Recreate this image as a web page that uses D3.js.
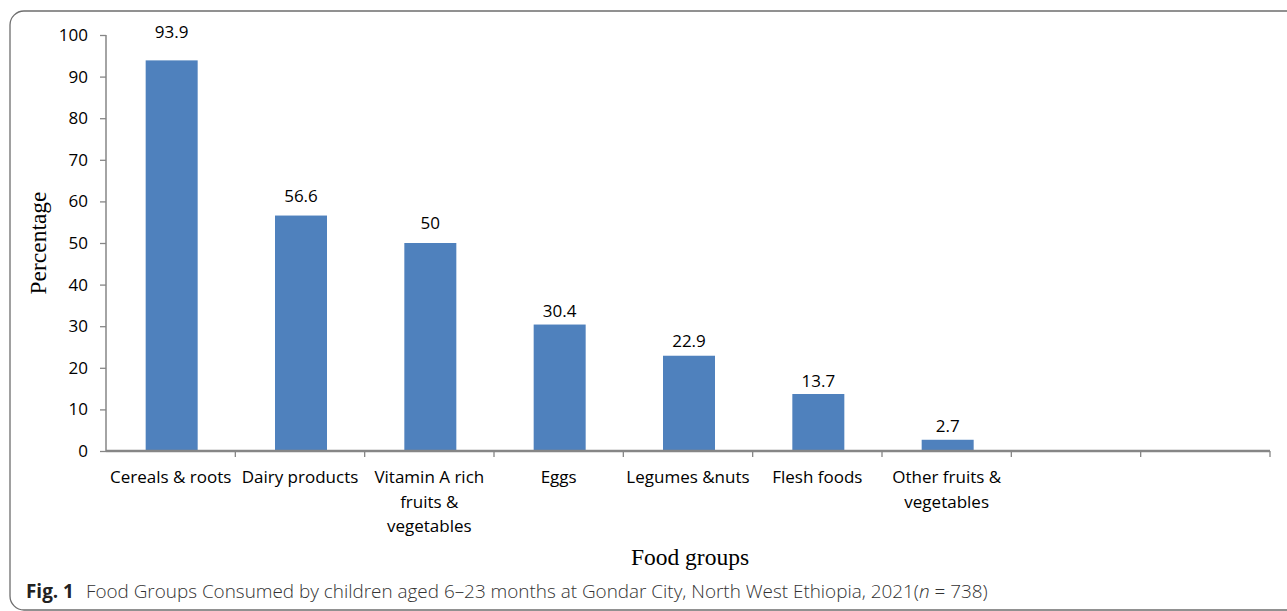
<!DOCTYPE html>
<html>
<head>
<meta charset="utf-8">
<script src="https://cdn.jsdelivr.net/npm/d3@7"></script>
<style>
  body { margin: 0; background: #fff; }
  svg { display: block; }
</style>
</head>
<body>
<div id="chart"></div>
<script>
// data
var categories = ["Cereals & roots", "Dairy products", "Vitamin A rich\nfruits &\nvegetables", "Eggs",
                  "Legumes &nuts", "Flesh foods", "Other fruits &\nvegetables", "", " "];
var values = [93.9, 56.6, 50, 30.4, 22.9, 13.7, 2.7, null, null];
var yTicks = [0, 10, 20, 30, 40, 50, 60, 70, 80, 90, 100];

(function(){
var W = 1287, H = 611;
var mLeft = 106, mRight = 1270, mTop = 35, mBottom = 451;
var font = "'Open Sans', sans-serif";
var fs = "17px";
// gap between bar top and label baseline (as placed in the original)
var labelGap = [22, 14, 14, 8, 9, 7, 8];

var svg = d3.select('#chart').append('svg')
  .attr("width", W)
  .attr("height", H);

// figure frame
svg.append('rect')
  .attr("x", 10).attr("y", 11)
  .attr("width", 1300).attr("height", 599)
  .attr("rx", 14).attr("ry", 14)
  .attr("fill", "none")
  .attr("stroke", "#6e6e6e")
  .attr("stroke-width", 1.3);

var x = d3.scaleBand().domain(categories).range([mLeft, mRight]);
var y = d3.scaleLinear().domain([0, 100]).range([mBottom, mTop]);
var barW = 52;

// bars
var data = categories.map(function(c, i){ return {cat: c, val: values[i], i: i}; })
  .filter(function(d){ return d.val != null; });

svg.selectAll('rect.bar')
  .data(data)
  .enter().append('rect')
  .attr("class", "bar")
  .attr("x", function(d){ return x(d.cat) + x.bandwidth()/2 - barW/2 + 1; })
  .attr("width", barW)
  .attr("y", function(d){ return y(d.val); })
  .attr("height", function(d){ return y(0) - y(d.val); })
  .attr("fill", "#4f81bd");

// value labels
svg.selectAll('text.val')
  .data(data)
  .enter().append('text')
  .attr("class", "val")
  .text(function(d){ return d.val; })
  .attr("x", function(d){ return x(d.cat) + x.bandwidth()/2 + 1; })
  .attr("y", function(d){ return y(d.val) - labelGap[d.i]; })
  .attr("text-anchor", "middle")
  .attr("font-family", font)
  .attr("font-size", fs)
  .attr("fill", "#000");

// y axis
var yAxis = svg.append('g')
  .attr("transform", "translate(" + mLeft + ",0)")
  .call(d3.axisLeft(y).tickValues(yTicks).tickSize(6).tickPadding(12));
yAxis.select('.domain').attr("stroke", "#868686").attr("stroke-width", 1.5).attr("d", "M0," + mTop + "V" + mBottom);
yAxis.selectAll('line').attr("stroke", "#868686").attr("stroke-width", 1.3);
yAxis.selectAll('text')
  .attr("font-family", font)
  .attr("font-size", fs)
  .attr("fill", "#000");

// x axis
var xAxis = svg.append('g')
  .attr("transform", "translate(0," + mBottom + ")");
xAxis.append('line')
  .attr("x1", mLeft).attr("x2", mRight)
  .attr("stroke", "#868686").attr("stroke-width", 2.5);
xAxis.selectAll('line.tick')
  .data(categories)
  .enter().append('line')
  .attr("class", "tick")
  .attr("x1", function(d){ return x(d) + x.bandwidth(); })
  .attr("x2", function(d){ return x(d) + x.bandwidth(); })
  .attr("y1", 0).attr("y2", 6)
  .attr("stroke", "#868686").attr("stroke-width", 1.3);

var xlabels = xAxis.selectAll('text.xl')
  .data(categories)
  .enter().append('text')
  .attr("class", "xl")
  .attr("x", function(d){ return x(d) + x.bandwidth()/2; })
  .attr("y", 32)
  .attr("text-anchor", "middle")
  .attr("font-family", font)
  .attr("font-size", fs)
  .attr("fill", "#000");
xlabels.each(function(d){
  var t = d3.select(this);
  d.split("\n").forEach(function(line, i){
    t.append('tspan')
      .attr("x", x(d) + x.bandwidth()/2)
      .attr("dy", i === 0 ? 0 : 24.5)
      .text(line.trim());
  });
});

// axis titles
svg.append('text')
  .text("Percentage")
  .attr("transform", "translate(46,243) rotate(-90)")
  .attr("text-anchor", "middle")
  .attr("font-family", "'Liberation Serif', 'Times New Roman', serif")
  .attr("font-size", "23.5px")
  .attr("fill", "#000");

svg.append('text')
  .text("Food groups")
  .attr("x", 690).attr("y", 565)
  .attr("text-anchor", "middle")
  .attr("font-family", "'Liberation Serif', 'Times New Roman', serif")
  .attr("font-size", "23.5px")
  .attr("fill", "#000");

// caption
var cap = svg.append('text')
  .attr("x", 26).attr("y", 598)
  .attr("font-family", font)
  .attr("font-size", "18.9px")
  .attr("fill", "#333");
cap.append('tspan').text("Fig. 1").attr("font-weight", "bold").attr("fill", "#222");
cap.append('tspan').text("Food Groups Consumed by children aged 6–23 months at Gondar City, North West Ethiopia, 2021(").attr("font-weight", 300).attr("dx", 12);
cap.append('tspan').text("n").attr("font-style", "italic").attr("font-weight", 300);
cap.append('tspan').text(" = 738)").attr("font-weight", 300);
})();
</script>
</body>
</html>
